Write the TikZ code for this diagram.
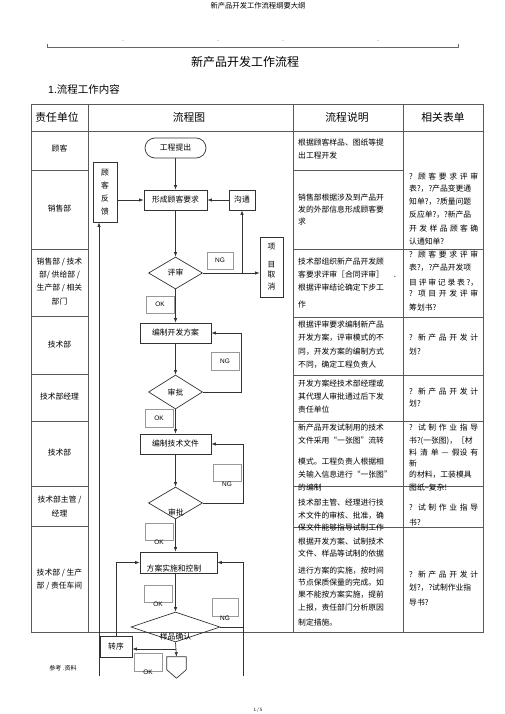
\documentclass[tikz,border=0pt]{standalone}
\usepackage{fontspec}
\setmainfont{Noto Sans CJK SC}
\newfontfamily\arialf{Liberation Sans}
\usetikzlibrary{arrows.meta,shapes.geometric}
\newcommand\fsz{\fontsize{7.8pt}{9pt}\selectfont}
\begin{document}
\begin{tikzpicture}[x=1pt,y=-1pt,
  tbl/.style={draw=black!65, line width=0.8pt},
  fl/.style={draw=black!80, line width=0.7pt},
  arr/.style={fl, -{Latex[length=4.5pt,width=3.4pt]}},
  box/.style={draw=black!80, line width=0.7pt, inner sep=0pt, font=\fsz},
  lab/.style={draw=black!40, line width=0.4pt, inner sep=0pt, font=\arialf\fontsize{6.5pt}{7pt}\selectfont},
  labt/.style={inner sep=0pt, font=\arialf\fontsize{6.5pt}{7pt}\selectfont},
  ctxt/.style={inner sep=0pt, font=\fsz},
  ltxt/.style={anchor=west, inner sep=0pt, font=\fsz},
  stxt/.style={anchor=west, inner sep=0pt, font=\fsz}]
\useasboundingbox (0,0) rectangle (505,714);

% page header
\node[ctxt, font=\fontsize{7.3pt}{8pt}\selectfont] (pghead) at (258,6) {新产品开发工作流程纲要大纲};
\draw[draw=black!60, line width=0.6pt] (47,44) -- (47,47) -- (458,47) -- (458,44);
\foreach \xx [count=\i] in {123,218,283,378} {\node[ctxt, font=\fontsize{4pt}{5pt}\selectfont] (dots-\i) at (\xx,41) {..};}
\node[ctxt, font=\fontsize{12pt}{14pt}\selectfont] (title) at (245,62) {新产品开发工作流程};
\node[ltxt, font=\fontsize{10.5pt}{12pt}\selectfont] (sec) at (48,89) {{\arialf 1.}流程工作内容};

% table
\draw[tbl] (31,104) rectangle (483,632);
\draw[tbl] (31,131) -- (483,131);
\foreach \xx in {88,293,403} {\draw[tbl] (\xx,104) -- (\xx,632);}
\foreach \yy in {170,249,316,374,421,486,526} {\draw[tbl] (31,\yy) -- (88,\yy);}
\draw[tbl] (293,170) -- (403,170);
\foreach \yy in {249,317,375,421,486,527} {\draw[tbl] (293,\yy) -- (483,\yy);}

% headers
\node[ctxt, font=\fontsize{10.8pt}{12pt}\selectfont] (h1) at (57,117) {责任单位};
\node[ctxt, font=\fontsize{10.8pt}{12pt}\selectfont] (h2) at (189,117) {流程图};
\node[ctxt, font=\fontsize{10.8pt}{12pt}\selectfont] (h3) at (347,117) {流程说明};
\node[ctxt, font=\fontsize{10.8pt}{12pt}\selectfont] (h4) at (443,117) {相关表单};

% column 1
\foreach \yy/\tx [count=\i] in {149/{顾客},209/{销售部},262/{销售部 / 技术},275/{部/ 供给部 /},288/{生产部 / 相关},302/{部门},345/{技术部},397/{技术部经理},453/{技术部},500/{技术部主管 /},513/{经理},573/{技术部 / 生产},586/{部 / 责任车间}}
  {\node[ctxt] (c1-\i) at (59.5,\yy) {\tx};}

% column 3
\foreach \yy/\tx [count=\i] in {143/{根据顾客样品、图纸等提},156/{出工程开发},198/{销售部根据涉及到产品开},210/{发的外部信息形成顾客要},222/{求},262/{技术部组织新产品开发顾},275/{客要求评审［合同评审］},288/{根据评审结论确定下步工},305/{作},325/{根据评审要求编制新产品},338/{开发方案，评审模式的不},352/{同，开发方案的编制方式},365/{不同，确定工程负责人},384/{开发方案经技术部经理或},397/{其代理人审批通过后下发},410/{责任单位},428/{新产品开发试制用的技术},441/{文件采用“一张图”流转},462/{模式。工程负责人根据相},475/{关输入信息进行“一张图”},488/{的编制},503/{技术部主管、经理进行技},516/{术文件的审核、批准，确},528/{保文件能够指导试制工作},542/{根据开发方案、试制技术},554/{文件、样品等试制的依据},571/{进行方案的实施，按时间},583/{节点保质保量的完成。如},595/{果不能按方案实施，提前},608/{上报，责任部门分析原因},623/{制定措施。}}
  {\node[ltxt] (c3-\i) at (298,\yy) {\tx};}
\node[ctxt] (c3dot) at (395,277) {.};

% column 4 (natural lines)
\foreach \yy/\tx [count=\i] in {189/{表?，?产品变更通},202/{知单?，?质量问题},215/{反应单?，?新产品},242/{认通知单?},268/{表?，?产品开发项},308/{筹划书?},352/{划?},404/{划?},441/{书?(一张图)，［材},463/{新},475/{的材料，工装模具},488/{图纸--复杂!},523/{书?},588/{划?，?试制作业指},603/{导书?}}
  {\node[ltxt] (c4-\i) at (409,\yy) {\tx};}
% column 4 (spread lines)
\foreach \yy/\tx [count=\i] in {177/{? 顾 客 要 求 评 审},229/{开 发 样 品 顾 客 确},255/{? 顾 客 要 求 评 审},283/{目 评 审 记 录 表 ?，},294/{? 项 目 开 发 评 审},338/{? 新 产 品 开 发 计},392/{? 新 产 品 开 发 计},428/{? 试 制 作 业 指 导},453/{料 清 单 — 假设 有},508/{? 试 制 作 业 指 导},575/{? 新 产 品 开 发 计}}
  {\node[stxt] (c4s-\i) at (409,\yy) {\makebox[69pt][s]{\tx}};}

% flowchart nodes
\node[box, rounded corners=10pt, minimum width=61pt, minimum height=20pt] (start) at (175.5,148) {工程提出};
\node[box, minimum width=63pt, minimum height=20pt] (req) at (175.5,200) {形成顾客要求};
\node[box, minimum width=26pt, minimum height=20pt] (comm) at (242,200) {沟通};
\node[box, minimum width=24pt, minimum height=60pt, align=center, font=\fontsize{7.8pt}{13pt}\selectfont] (fb) at (105,192) {顾\\客\\反\\馈};
\node[box, diamond, minimum width=54pt, minimum height=32pt] (rev) at (175.5,273) {评审};
\node[box, minimum width=23pt, minimum height=60pt, align=center, font=\fontsize{7.8pt}{10pt}\selectfont] (cancel) at (271.5,267) {项\\[8pt]目\\取\\[2pt]消};
\node[box, minimum width=71pt, minimum height=20pt] (plan) at (175.5,333) {编制开发方案};
\node[box, diamond, minimum width=54pt, minimum height=34pt] (appr1) at (175.5,392) {审批};
\node[box, minimum width=71pt, minimum height=20pt] (tech) at (175.5,444) {编制技术文件};
\node[box, diamond, minimum width=54pt, minimum height=32pt] (appr2) at (175.5,503) {};
\node[ctxt] (appr2t) at (176,512) {审批};
\node[box, minimum width=77pt, minimum height=21pt] (impl) at (178.5,562.5) {};
\node[ctxt] (implt) at (174,569) {方案实施和控制};
\node[box, diamond, minimum width=89pt, minimum height=30pt] (conf) at (175.5,627) {};
\node[ctxt] (conft) at (175.5,637) {样品确认};
\node[box, minimum width=32pt, minimum height=21pt] (trans) at (116,646.5) {转序};
\node[inner sep=0pt, minimum width=19pt, minimum height=21pt] (endc) at (176.5,667.5) {};
\draw[fl] (endc.north west) -- (endc.north east) -- ([yshift=-13pt]endc.north east) -- (endc.south) -- ([yshift=-13pt]endc.north west) -- cycle;

% NG / OK labels
\node[lab, minimum width=26pt, minimum height=17pt] (ng1) at (220,260.5) {NG};
\node[lab, minimum width=28pt, minimum height=17pt] (ok1) at (160,304.5) {OK};
\node[lab, minimum width=28pt, minimum height=18pt] (ng2) at (225,361) {NG};
\node[lab, minimum width=28pt, minimum height=18pt] (ok2) at (159,418) {OK};
\node[lab, minimum width=28pt, minimum height=17pt] (ng3) at (227,472.5) {};
\node[labt] (ng3t) at (227,484) {NG};
\node[lab, minimum width=28pt, minimum height=17pt] (ok3) at (159,531.5) {};
\node[labt] (ok3t) at (159,542) {OK};
\node[lab, minimum width=28pt, minimum height=17pt] (ok4) at (158,593.5) {};
\node[labt] (ok4t) at (158,604) {OK};
\node[lab, minimum width=26pt, minimum height=18pt] (ng4) at (225,607) {};
\node[labt] (ng4t) at (225,618) {NG};
\node[lab, minimum width=28pt, minimum height=18pt] (ok5) at (148,662) {};
\node[labt] (ok5t) at (148,672) {OK};

% connectors
\draw[arr] (start) -- (req);
\draw[arr] (fb.east |- req) -- (req);
\draw[arr] (comm) -- (req);
\draw[arr] (req) -- (rev);
\draw[arr] (rev) -- (plan);
\draw[arr] (rev.east) -- (cancel.west |- rev.east);
\draw[arr] (comm.south |- rev.east) -- (comm.south);
\draw[arr] (plan) -- (appr1);
\draw[arr] (appr1) -- (tech);
\draw[arr] (appr1.east) -- ++(38,0) |- (plan.east);
\draw[arr] (tech) -- (appr2);
\draw[arr] (appr2.east) -- ++(40,0) |- (tech.east);
\draw[arr] (appr2.south) -- (appr2.south |- impl.north);
\draw[arr] (impl.south -| conf.north) -- (conf.north);
\coordinate (rb) at (243,676);
\draw[arr] (rb) |- (impl.east);
\draw[fl] (conf.east) -- (conf.east -| rb);
\draw[arr] (trans.north) |- (impl.west);
\coordinate (lb) at (99,676);
\draw[arr] (lb) -- (lb |- fb.south);
\draw[arr] (conf.south) -- (endc.north);
\coordinate (jb) at (175.5,649);
\draw[arr] (jb) -- (trans.east |- jb);

% footer
\node[ctxt, font=\fontsize{6pt}{7pt}\selectfont] (ref) at (63,668) {参考 .资料};
\node[ctxt, font=\fontsize{4.5pt}{5pt}\selectfont] (pg) at (258,710) {1 / 5};
\end{tikzpicture}
\end{document}
